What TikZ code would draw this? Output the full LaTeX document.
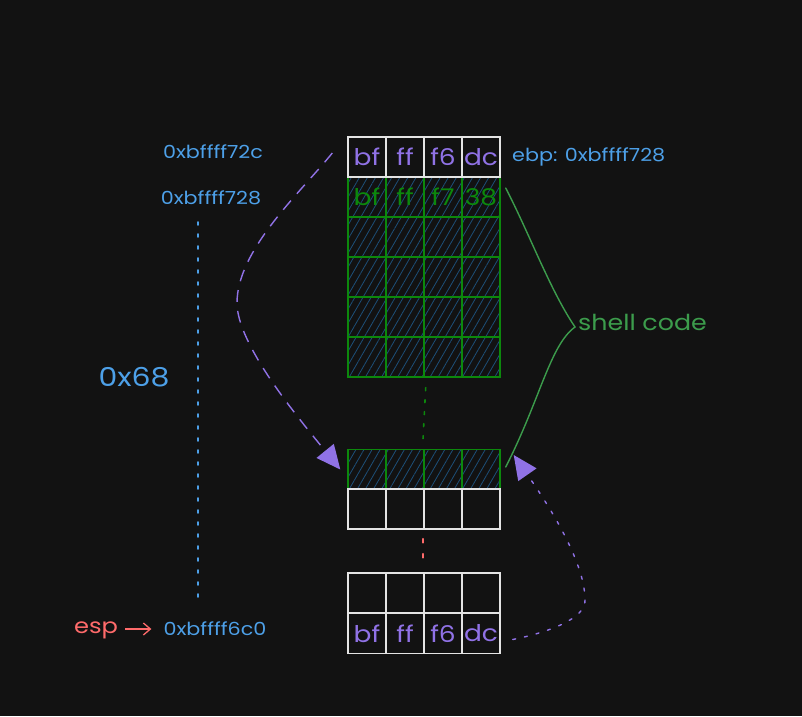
\documentclass[tikz,border=0pt]{standalone}
\usepackage{fontspec}
\setmainfont[FakeStretch=1.15]{Poppins}
\usepackage{tikz}
\usetikzlibrary{positioning}
\usetikzlibrary{arrows.meta}
\usetikzlibrary{patterns.meta}
\usepackage{xcolor}

\definecolor{bgdark}{HTML}{121212}
\definecolor{cellwhite}{HTML}{E4E4E4}
\definecolor{cellgreen}{HTML}{0C880C}
\definecolor{hatchblue}{HTML}{1D4F78}
\definecolor{bytepurple}{HTML}{9072E6}
\definecolor{addrblue}{HTML}{4DA0E8}
\definecolor{codegreen}{HTML}{3C9C4C}
\definecolor{espred}{HTML}{FF6B6B}

\tikzset{
  cell/.style={draw=cellwhite, line width=1.4pt, minimum width=38pt, minimum height=40pt,
    inner sep=0pt, font=\fontsize{23}{26}\selectfont},
  shellcell/.style={cell, draw=cellgreen, text=cellgreen,
    pattern={Lines[angle=60,distance=7pt,line width=0.8pt]}, pattern color=hatchblue},
  addr/.style={text=addrblue, inner sep=0pt, font=\fontsize{18}{21}\selectfont},
  ptr/.style={draw=bytepurple, line width=1.4pt},
  dots/.style={line width=1.6pt, line cap=round, dash pattern=on 3pt off 9pt},
  tri/.style={-{Triangle[length=24pt,width=22pt]}},
}

\begin{document}
\begin{tikzpicture}[x=1pt,y=-1pt]
    \fill[bgdark] (0,0) rectangle (802,716);

    % shell code rows
    \foreach \t [count=\i] in {bf,ff,f7,38}
        \node[shellcell] (b\i) at (329+38*\i,197) {\t};
    \foreach \r/\y in {c/237,d/277,e/317,f/357,g/469.5}
        \foreach \i in {1,...,4}
            \node[shellcell] (\r\i) at (329+38*\i,\y) {};

    % plain stack rows
    \foreach \t [count=\i] in {bf,ff,f6,dc}
        \node[cell, text=bytepurple] (a\i) at (329+38*\i,157) {\t};
    \foreach \r/\y in {h/509,i/593}
        \foreach \i in {1,...,4}
            \node[cell] (\r\i) at (329+38*\i,\y) {};
    \foreach \t [count=\i] in {bf,ff,f6,dc}
        \node[cell, text=bytepurple] (j\i) at (329+38*\i,633.5) {\t};

    % labels
    \node[addr] (addr72c) at (213,152) {0xbffff72c};
    \node[addr] (addr728) at (211,198) {0xbffff728};
    \node[addr, anchor=west] (ebp) at (512,157) {ebp: 0xbffff728};
    \node[addr, font=\fontsize{26}{30}\selectfont] (offset) at (134,377) {0x68};
    \node[addr] (addr6c0) at (215,629) {0xbffff6c0};
    \node[text=espred, inner sep=0pt, font=\fontsize{21}{24}\selectfont] (esp) at (96,630) {esp};
    \node[text=codegreen, inner sep=0pt, anchor=west, font=\fontsize{22}{26}\selectfont] (shell) at (578,322) {shell code};

    % esp arrow
    \draw[espred, line width=1.3pt, -{Straight Barb[length=7pt,width=12pt]}]
        ([shift={(7,-1)}]esp.east) -- ([xshift=-12pt]addr6c0.west);

    % dotted gaps
    \draw[dots, addrblue] ([shift={(-13,24)}]addr728.center) -- ([shift={(-17,-32)}]addr6c0.center);
    \draw[dots, cellgreen] ([shift={(1,10)}]f2.south east) -- ([shift={(-2,-4)}]g2.north east);
    \draw[dots, espred, dash pattern=on 4pt off 11pt] ([shift={(-2,9)}]h2.south east) -- ([shift={(-2,-5)}]i2.north east);

    % return address pointers
    \draw[ptr, tri, dash pattern=on 12pt off 9pt] ([shift={(-15,-4)}]a1.west)
        .. controls (300,193) and (237,250) .. (237,303)
        .. controls (237,345) and (300,420) .. ([xshift=-7pt]g1.west);
    \draw[ptr, tri, line cap=round, dash pattern=on 3pt off 9pt] ([shift={(12,6)}]j4.east)
        .. controls (550,632) and (586,618) .. (585,600)
        .. controls (585,560) and (545,500) .. ([shift={(13,-14.5)}]g4.east);

    % shell code brace
    \draw[codegreen, line width=1.4pt, line cap=round] ([shift={(5,-9)}]b4.east)
        .. controls (530,235) and (550,290) .. ([shift={(-3,5)}]shell.west)
        .. controls (550,345) and (540,400) .. ([shift={(5,-2.5)}]g4.east);
\end{tikzpicture}
\end{document}
